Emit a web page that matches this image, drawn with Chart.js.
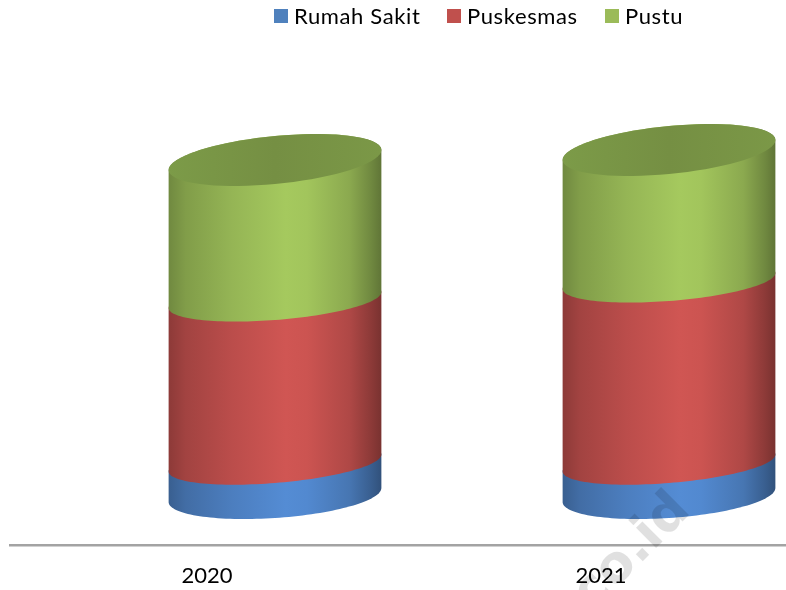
<!DOCTYPE html>
<html>
<head>
<meta charset="utf-8">
<script src="https://cdn.jsdelivr.net/npm/chart.js@4"></script>
<style>
  html, body { margin: 0; padding: 0; background: #fff; overflow: hidden; width: 786px; height: 590px; }
  #wrap { position: relative; width: 786px; height: 590px; overflow: hidden; }
  canvas { position: absolute; left: 0; top: 0; }
  .legend-item { position: absolute; top: 3px; height: 26px; font: 22px Lato, sans-serif; letter-spacing: 0.62px; color: #000; white-space: nowrap; }
  .legend-item i { position: absolute; left: 0; top: 6px; width: 14px; height: 14px; }
  .legend-item span { position: absolute; left: 20px; top: 0; line-height: 26px; }
</style>
</head>
<body>
<div id="wrap">
  <canvas id="chart" width="800" height="590"></canvas>
</div>
<script>
const categories = ['2020', '2021'];
const rumahSakit = [32, 32];
const puskesmas = [163, 182];
const pustu = [140, 131];
const seriesNames = ['Rumah Sakit', 'Puskesmas', 'Pustu'];

const seriesColors = ['#4f81bd', '#c0504d', '#9bbb59'];
const sideColors = [[84, 140, 212], [208, 86, 83], [165, 201, 94]];
const legendLeft = [274, 447, 605];

// 3D look of the cylinders
const depthShift = 68;
const ringTilt = [7, 8.5, 8, 10];
const ringDepth = [23, 20, 20, 24];

function shade(rgb, f) {
  return `rgb(${rgb.map(c => Math.round(c * f)).join(',')})`;
}

function sideGradient(ctx, left, width, rgb) {
  const g = ctx.createLinearGradient(left, 0, left + width, 0);
  [[0, 0.68], [0.08, 0.78], [0.3, 0.9], [0.55, 1], [0.65, 0.98], [0.85, 0.84], [0.95, 0.68], [1, 0.58]]
    .forEach(([p, f]) => g.addColorStop(p, shade(rgb, f)));
  return g;
}

// point on a tilted ring, t in radians
function ringPoint(cx, cy, a, tilt, depth, t) {
  return [cx + a * Math.cos(t), cy + depth * Math.sin(t) - tilt * Math.cos(t)];
}

function traceRing(ctx, cx, cy, a, tilt, depth, from, to, first) {
  const steps = 72;
  for (let i = 0; i <= steps; i++) {
    const [x, y] = ringPoint(cx, cy, a, tilt, depth, from + (to - from) * i / steps);
    if (i === 0 && first) ctx.moveTo(x, y); else ctx.lineTo(x, y);
  }
}

const cylinders = {
  id: 'cylinders',
  beforeDatasetDraw() { return false; },
  afterDatasetsDraw(chart) {
    const { ctx } = chart;
    const metas = chart.data.datasets.map((d, i) => chart.getDatasetMeta(i));
    categories.forEach((c, index) => {
      metas.forEach((meta, s) => {
        const bar = meta.data[index];
        const a = bar.width / 2;
        const cx = bar.x + depthShift;
        ctx.save();
        ctx.fillStyle = sideGradient(ctx, cx - a, bar.width, sideColors[s]);
        ctx.beginPath();
        // back half of the top edge, then front half of the lower edge
        traceRing(ctx, cx, bar.y, a, ringTilt[s + 1], ringDepth[s + 1], Math.PI, 2 * Math.PI, true);
        traceRing(ctx, cx, bar.base, a, ringTilt[s], ringDepth[s], 0, Math.PI, false);
        ctx.closePath();
        ctx.fill();
        ctx.restore();
      });
      const top = metas[metas.length - 1].data[index];
      const a = top.width / 2;
      const cx = top.x + depthShift;
      const g = ctx.createLinearGradient(cx - a, 0, cx + a, 0);
      g.addColorStop(0, '#7c9b48');
      g.addColorStop(0.5, '#758f43');
      g.addColorStop(1, '#7b9847');
      ctx.save();
      ctx.fillStyle = g;
      ctx.beginPath();
      traceRing(ctx, cx, top.y, a, ringTilt[3], ringDepth[3], 0, 2 * Math.PI, true);
      ctx.closePath();
      ctx.fill();
      ctx.restore();
    });
  },
  afterDraw(chart) {
    // faint site stamp across the lower right
    const { ctx } = chart;
    ctx.save();
    ctx.translate(692, 512);
    ctx.rotate(-Math.PI / 4);
    ctx.font = 'bold 52px "DejaVu Sans", sans-serif';
    ctx.textAlign = 'right';
    ctx.textBaseline = 'alphabetic';
    ctx.fillStyle = 'rgba(0,0,0,0.12)';
    ctx.fillText('co.id', 0, 0);
    ctx.restore();
  },
};

new Chart(document.getElementById('chart'), {
  type: 'bar',
  data: {
    labels: categories,
    datasets: [
      { label: seriesNames[0], data: rumahSakit, backgroundColor: seriesColors[0] },
      { label: seriesNames[1], data: puskesmas, backgroundColor: seriesColors[1] },
      { label: seriesNames[2], data: pustu, backgroundColor: seriesColors[2] },
    ],
  },
  options: {
    responsive: false,
    animation: false,
    barPercentage: 1,
    categoryPercentage: 0.54,
    layout: { padding: { left: 10, right: 2, top: 0, bottom: 0 } },
    plugins: { legend: { display: false }, tooltip: { enabled: false } },
    scales: {
      x: {
        stacked: true,
        afterFit: scale => { scale.height = 45; },
        grid: { display: false, drawTicks: false },
        border: { color: '#a3a3a3', width: 2.5 },
        ticks: { color: '#000', font: { family: 'Lato, sans-serif', size: 22 }, padding: 18, maxRotation: 0 },
      },
      y: { stacked: true, display: false, min: -50, max: 495 },
    },
  },
  plugins: [cylinders],
});

seriesNames.forEach((name, i) => {
  const item = document.createElement('div');
  item.className = 'legend-item';
  item.style.left = legendLeft[i] + 'px';
  const box = document.createElement('i');
  box.style.background = seriesColors[i];
  const text = document.createElement('span');
  text.textContent = name;
  item.append(box, text);
  document.getElementById('wrap').appendChild(item);
});
</script>
</body>
</html>
